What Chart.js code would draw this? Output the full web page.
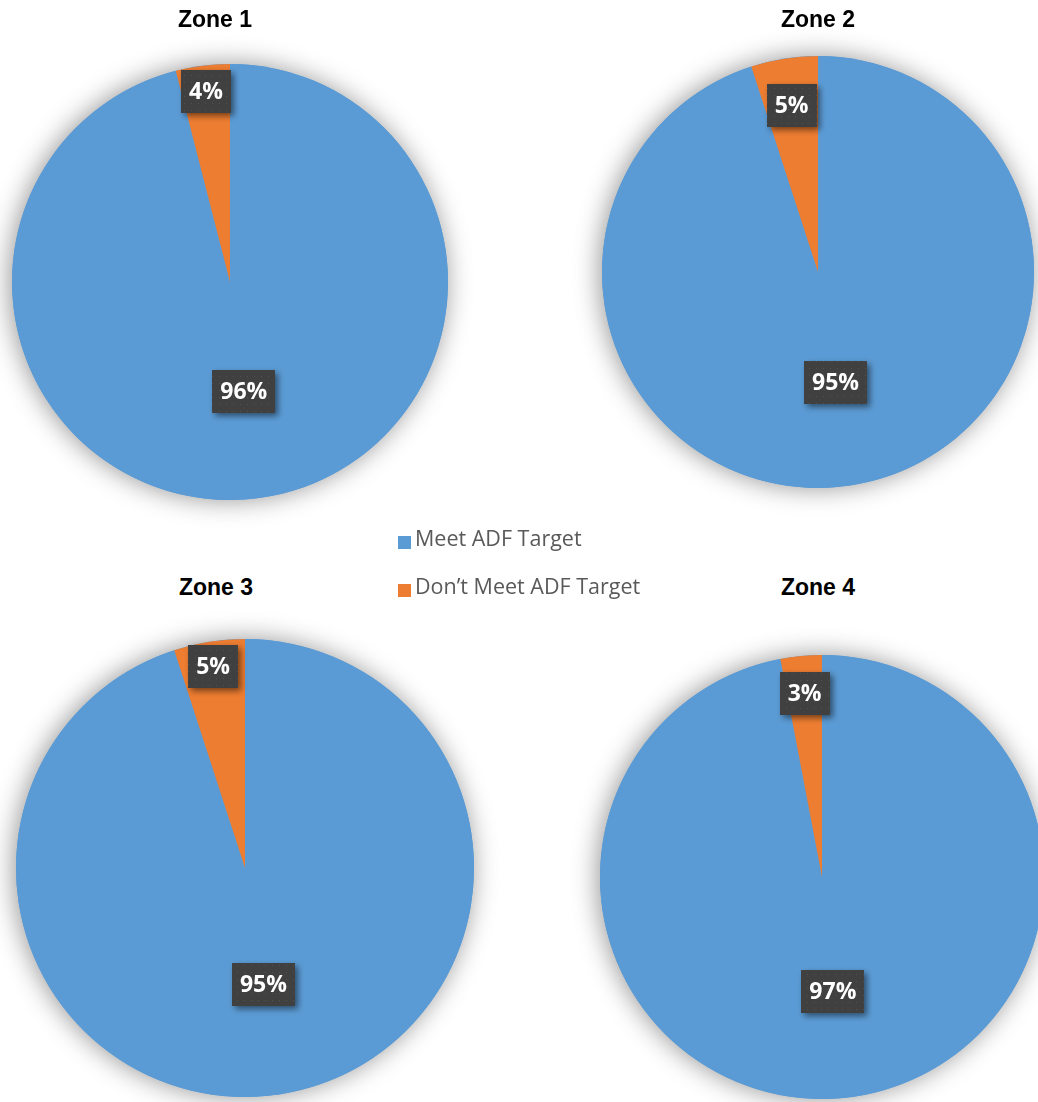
<!DOCTYPE html>
<html>
<head>
<meta charset="utf-8">
<script src="https://cdn.jsdelivr.net/npm/chart.js@4.4.1/dist/chart.umd.min.js"></script>
<style>
  html, body { margin: 0; padding: 0; background: #ffffff; overflow: hidden; }
  body { width: 1038px; height: 1102px; position: relative; }
  canvas { position: absolute; }
  .title { position: absolute; font-family: "Liberation Sans", Arial, sans-serif; font-weight: bold;
           font-size: 23px; color: #000; transform: translate(-50%, -50%); white-space: nowrap; line-height: 1; }
  .legend { position: absolute; font-family: "Open Sans", sans-serif; font-size: 21.5px; color: #595959; white-space: nowrap; line-height: 1; }
</style>
</head>
<body>
<script>
// ---- data ----
const categories = ["Meet ADF Target", "Don\u2019t Meet ADF Target"];
const zoneNames = ["Zone 1", "Zone 2", "Zone 3", "Zone 4"];
const zone1Values = [96, 4];
const zone2Values = [95, 5];
const zone3Values = [95, 5];
const zone4Values = [97, 3];
const zoneValues = [zone1Values, zone2Values, zone3Values, zone4Values];

// ---- styles / layout ----
const colors = ["#5B9BD5", "#ED7D31"];
const layout = [
  { cx: 230, cy: 282, r: 218, tx: 215, ty: 19, lf: [0.505, 0.88] },
  { cx: 818, cy: 272, r: 216, tx: 818, ty: 19, lf: [0.52, 0.78] },
  { cx: 245, cy: 868, r: 229, tx: 216, ty: 587, lf: [0.515, 0.89] },
  { cx: 822, cy: 877, r: 222, tx: 818, ty: 587, lf: [0.52, 0.83] }
];
const PAD = 34;

// dotted dark pattern for label boxes
const tile = document.createElement('canvas');
tile.width = 7; tile.height = 7;
const tctx = tile.getContext('2d');
tctx.fillStyle = '#404040'; tctx.fillRect(0, 0, 7, 7);
tctx.fillStyle = '#525252'; tctx.fillRect(3, 3, 1, 1);

const shadowPlugin = {
  id: 'pieShadow',
  beforeDatasetsDraw(chart) {
    const arc = chart.getDatasetMeta(0).data[0];
    if (!arc) return;
    const ctx = chart.ctx;
    ctx.save();
    ctx.shadowColor = 'rgba(0,0,0,0.42)';
    ctx.shadowBlur = 26;
    ctx.shadowOffsetX = -2;
    ctx.shadowOffsetY = 0;
    ctx.beginPath();
    ctx.arc(arc.x, arc.y, arc.outerRadius, 0, Math.PI * 2);
    ctx.fillStyle = colors[0];
    ctx.fill();
    ctx.restore();
  }
};

const labelPlugin = {
  id: 'boxLabels',
  afterDatasetsDraw(chart, args, opts) {
    const ctx = chart.ctx;
    const meta = chart.getDatasetMeta(0);
    const data = chart.data.datasets[0].data;
    const total = data.reduce((a, b) => a + b, 0);
    const pattern = ctx.createPattern(tile, 'repeat');
    meta.data.forEach((arc, i) => {
      const mid = (arc.startAngle + arc.endAngle) / 2;
      const d = arc.outerRadius * opts.fractions[i];
      const x = arc.x + Math.cos(mid) * d;
      const y = arc.y + Math.sin(mid) * d;
      const text = Math.round(data[i] / total * 100) + '%';
      ctx.save();
      ctx.font = 'bold 23px "Open Sans", sans-serif';
      const w = ctx.measureText(text).width + 16;
      const h = 43;
      ctx.shadowColor = 'rgba(0,0,0,0.5)';
      ctx.shadowBlur = 6;
      ctx.shadowOffsetX = 3;
      ctx.shadowOffsetY = 3;
      ctx.fillStyle = pattern;
      ctx.fillRect(Math.round(x - w / 2), Math.round(y - h / 2), Math.round(w), h);
      ctx.shadowColor = 'transparent';
      ctx.fillStyle = '#ffffff';
      ctx.textAlign = 'center';
      ctx.textBaseline = 'middle';
      ctx.fillText(text, x, y + 1);
      ctx.restore();
    });
  }
};

zoneValues.forEach((vals, k) => {
  const L = layout[k];
  const size = 2 * L.r + 2 * PAD;
  const cv = document.createElement('canvas');
  cv.width = size; cv.height = size;
  cv.style.width = size + 'px'; cv.style.height = size + 'px';
  cv.style.left = (L.cx - L.r - PAD) + 'px';
  cv.style.top = (L.cy - L.r - PAD) + 'px';
  document.body.appendChild(cv);

  new Chart(cv, {
    type: 'pie',
    data: {
      labels: categories,
      datasets: [{ data: vals, backgroundColor: colors, borderWidth: 0, hoverOffset: 0 }]
    },
    options: {
      responsive: false,
      animation: false,
      events: [],
      layout: { padding: PAD },
      plugins: {
        legend: { display: false },
        tooltip: { enabled: false },
        boxLabels: { fractions: L.lf }
      }
    },
    plugins: [shadowPlugin, labelPlugin]
  });

  const t = document.createElement('div');
  t.className = 'title';
  t.textContent = zoneNames[k];
  t.style.left = L.tx + 'px';
  t.style.top = L.ty + 'px';
  document.body.appendChild(t);
});

// legend
const legendPos = [{ x: 398, y: 540 }, { x: 398, y: 588 }];
categories.forEach((c, i) => {
  const sw = document.createElement('div');
  sw.style.position = 'absolute';
  sw.style.left = legendPos[i].x + 'px';
  sw.style.top = (legendPos[i].y - 4) + 'px';
  sw.style.width = '13px'; sw.style.height = '13px';
  sw.style.background = colors[i];
  document.body.appendChild(sw);
  const lt = document.createElement('div');
  lt.className = 'legend';
  lt.textContent = c;
  lt.style.left = (legendPos[i].x + 17) + 'px';
  lt.style.top = (legendPos[i].y - 13) + 'px';
  document.body.appendChild(lt);
});
</script>
</body>
</html>
